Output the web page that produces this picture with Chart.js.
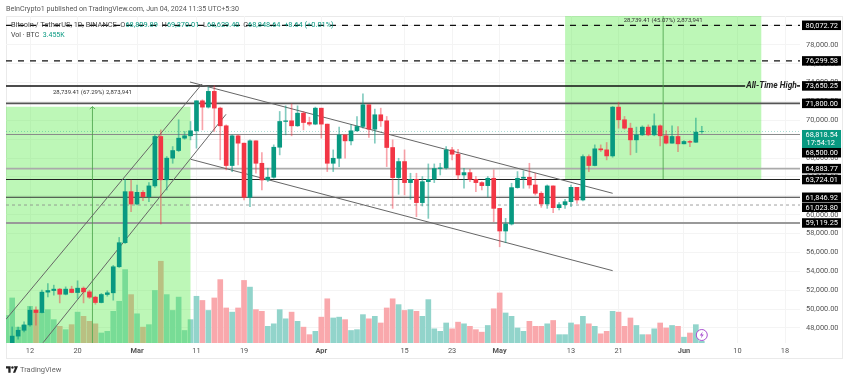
<!DOCTYPE html>
<html lang="en">
<head>
    <meta charset="UTF-8">
    <script src="https://cdn.jsdelivr.net/npm/chart.js"></script>
    <title>BTC/USDT 1D</title>
    <style>
        body { margin: 0; background: #fff; font-family: Roboto, sans-serif; }
        canvas { position: absolute; left: 0; top: 0; filter: blur(.4px); }
        .t { position: absolute; white-space: nowrap; line-height: 10px; height: 10px; font-size: 7.4px; color: #444; filter: blur(.25px); }
        .t b { font-weight: 400; color: #089981; }
    </style>
</head>
<body>
    <canvas id="myChart" width="850" height="380"></canvas>
    <div class="t" style="left:6px;top:4px;font-size:7.1px;color:#555">BeInCrypto1 published on TradingView.com, Jun 04, 2024 11:35 UTC+5:30</div>
    <div class="t" style="left:11px;top:20px">Bitcoin / TetherUS, 1D, BINANCE &nbsp;O<b>68,809.89</b> &nbsp;H<b>69,370.01</b> &nbsp;L<b>68,629.40</b> &nbsp;C<b>68,848.64</b> &nbsp;<b>+8.64 (+0.01%)</b></div>
    <div class="t" style="left:11px;top:30px;font-size:7px">Vol · BTC &nbsp;<b>3.455K</b></div>
    <svg style="position:absolute;left:6px;top:366px" width="12" height="8" viewBox="0 0 13 8">
        <path d="M0 0h5v7H2.500V2.500H0z M8.500 0L11 0 13 0 10 7H7.500L9.500 2.500z" fill="#222"/><circle cx="7" cy="1.300" r="1.300" fill="#222"/>
    </svg>
    <div class="t" style="left:20px;top:365px;font-size:7.5px;color:#666">TradingView</div>
    <script>
        // daily candles Feb 8 -> Jun 4 2024
        const opens = [44340,45290,47130,47750,48320,49880,49630,51790,51960,52110,51570,52110,51750,52210,51820,51260,50690,51540,51720,54480,57030,62440,
            61130,62370,61910,63050,68290,63700,65990,66800,68110,68360,68890,72070,71400,73070,71300,69420,65210,68360,67580,61840,67830,65450,63680,63970,67150,69880,69950,69420,70760,69770,69600,
            71290,69600,65450,65980,68460,67825,68890,69350,71650,69065,70590,69950,67120,63930,65630,63400,63750,61280,63500,63750,64890,64960,66870,66410,64210,64460,63750,63400,63080,63860,
            60670,58270,59010,62870,63860,63970,63150,62270,61140,63050,60745,61060,61380,62900,61560,66160,65210,66980,66870,66230,71400,70060,69170,67930,68460,69280,68460,69420,68360,67580,68290,
            67510,67760,67680,68809.89]
        const closes = [45290,47130,47750,48320,49880,49630,51790,51960,52110,51570,52110,51750,52210,51820,51260,50690,51540,51720,54480,57030,62440,61130,
            62370,61910,63050,68290,63700,65990,66800,68110,68360,68890,72070,71400,73070,71300,69420,65210,68360,67580,61840,67830,65450,63680,63970,67150,69880,69950,69420,70760,69770,69600,71290,
            69600,65450,65980,68460,67825,68890,69350,71650,69065,70590,69950,67120,63930,65630,63400,63750,61280,63500,63750,64890,64960,66870,66410,64210,64460,63750,63400,63080,63860,60670,
            58270,59010,62870,63860,63970,63150,62270,61140,63050,60745,61060,61380,62900,61560,66160,65210,66980,66870,66230,71400,70060,69170,67930,68460,69280,68460,69420,68360,67580,68290,67510,
            67760,67680,68750,68818.54]
        const highs = [45600,48100,48100,48640,50230,50230,52000,52700,52530,52180,52350,52420,52990,52350,52000,51360,51650,51930,54620,57590,63750,63680,
            63150,62550,63400,68460,68990,66160,67220,70060,68820,69880,72070,72180,73530,73670,71400,69520,68460,68460,67580,67930,67830,66590,64920,67400,70940,71540,71750,71540,70940,70340,71400,
            71290,69600,66870,69280,68460,69520,70410,72820,71650,71190,71290,70410,67930,65980,66870,64390,64390,64040,65380,65380,65450,67220,67150,66940,64920,64820,64040,63500,64040,64750,
            60670,59610,63330,64570,64640,65450,64390,62440,63150,63050,61280,61630,63150,62900,66340,66340,67400,67400,67650,71470,71930,70410,69700,69280,69420,69520,70690,69520,68920,69420,69350,
            67860,67860,70230,69370.01]
        const lows = [44300,45240,46800,47570,48180,48280,49590,51290,51470,50650,51500,51720,51120,50650,51120,50510,50650,51360,50940,54410,56960,60320,
            61030,61490,61380,62900,59010,62620,65450,66690,68000,67930,67050,68990,71300,68820,65810,64750,64570,65280,61560,60850,64390,62620,63510,63860,66340,68460,68360,69350,68990,69420,69530,
            68110,64570,64570,65100,65980,67400,68820,69170,68180,67580,69350,65100,60670,62160,62090,61630,59790,60920,59610,63400,64210,64820,65810,63750,62800,63500,62440,62620,61850,59260,
            56600,57030,58900,62800,62800,62800,62090,60780,60670,60210,60500,60670,60850,61200,61450,64570,65170,66690,65810,66090,69170,69060,66340,66590,68390,68360,68360,67290,67510,67580,66690,
            67510,67220,67650,68629.40]
        // thousand BTC
        const volumes = [33,54,19,21,44,40,37,40,28,20,16,22,37,32,26,23,12,14,38,50,88,58,
            35,19,22,63,98,58,39,55,15,28,56,51,39,54,76,42,37,42,75,67,40,38,20,23,40,29,37,26,19,10,14,
            31,53,30,31,28,15,16,34,29,32,24,42,53,46,39,40,38,32,52,17,14,24,17,25,23,20,16,13,21,41,
            60,36,32,18,14,26,20,20,23,27,10,10,24,22,32,23,20,11,14,38,37,20,30,21,10,10,17,24,18,21,20,
            7,12,22,2]

        // day numbers count from Feb 12 = 0
        const firstDay = -4
        const tickDays = [0,8,18,28,36,49,63,71,79,91,99,110,119,127]
        const tickLabels = ['12','20','Mar','11','19','Apr','15','23','May','13','21','Jun','10','18']
        const priceTicks = [48000,50000,52000,54000,56000,58000,60000,62000,64000,66000,68000,70000,72000,74000,76000,78000,80000]

        const levelPrices = [80072.72,76299.58,73650.25,71800,68500,64883.77,63724.01,61846.92,61023.80,59119.25]
        const levelColors = ['#111','#111','#111','#555','#8a8a8a','#aaa','#222','#333','#888','#999']
        const levelWidths = [1.2,1.2,1.5,1.6,1,1.8,1.1,1.2,0.8,1.8]
        const levelDashes = [[6,6],[6,6],[],[],[],[],[],[],[3,3],[]]
        const athPrice = 73650.25
        const athEndDay = 120.3
        const ownTagPrice = 68500
        const lastPrice = 68818.54
        const lastTime = '17:54:12'
        const athLabel = 'All-Time High'

        // [day1, price1, day2, price2]
        const trendLines = [[-4.04,48912,28.93,73852],[2.19,46432,32.97,70640],[26.91,74063,98.01,62267],[27.03,65871,98.01,54063]]
        const boxDays = [[-4.04,27.03],[90,123.05]]
        const boxPrices = [[42709,71448],[63767,92505]]
        const boxArrowDays = [10.5,106.5]
        const boxLabels = ['28,739.41 (67.29%) 2,873,941','28,739.41 (45.07%) 2,873,941']
        const boxLabelPrices = [73000,80600]

        const UP = '#089981', DOWN = '#f23645'
        const days = opens.map((o, i) => firstDay + i)
        const isUp = closes.map((c, i) => c >= opens[i])
        const xMin = -4.04, xMax = 129.52

        const FONT = 'Roboto, sans-serif'

        function hline(price, color, width, dash, startDay, endDay) {
            return { type: 'line', order: 5, borderColor: color, borderWidth: width, borderDash: dash, pointRadius: 0,
                data: [{ x: startDay, y: price }, { x: endDay, y: price }] }
        }
        function money(v) {
            return v.toLocaleString('en-US', { minimumFractionDigits: 2 })
        }

        const datasets = []
        // candle bodies and wicks on top
        datasets.push({ type: 'bar', order: 1, grouped: false, barThickness: 4, borderWidth: 0,
            backgroundColor: isUp.map(u => u ? UP : DOWN),
            data: days.map((d, i) => ({ x: d, y: [opens[i], closes[i]] })) })
        datasets.push({ type: 'bar', order: 2, grouped: false, barThickness: 1, borderWidth: 0,
            backgroundColor: isUp.map(u => u ? 'rgba(8,153,129,.5)' : 'rgba(242,54,69,.45)'),
            data: days.map((d, i) => ({ x: d, y: [lows[i], highs[i]] })) })
        trendLines.forEach(l => {
            datasets.push({ type: 'line', order: 3, borderColor: '#666', borderWidth: 1, pointRadius: 0,
                data: [{ x: l[0], y: l[1] }, { x: l[2], y: l[3] }] })
        })
        // green boxes sit over the volume bars, arrows on top of them
        boxDays.forEach((b, i) => {
            datasets.push({ type: 'line', order: 6, borderWidth: 0, pointRadius: 0,
                backgroundColor: 'rgba(76,234,60,.37)', fill: { value: boxPrices[i][1] },
                data: [{ x: b[0], y: boxPrices[i][0] }, { x: b[1], y: boxPrices[i][0] }] })
            datasets.push({ type: 'line', order: 4, borderColor: 'rgba(70,160,70,.8)', borderWidth: 1, pointRadius: 0,
                data: [{ x: boxArrowDays[i], y: boxPrices[i][0] }, { x: boxArrowDays[i], y: boxPrices[i][1] }] })
            datasets.push({ type: 'line', order: 4, borderColor: 'rgba(70,160,70,.8)', borderWidth: 1, pointRadius: 0,
                data: [{ x: boxArrowDays[i] - .45, y: boxPrices[i][1] - 250 }, { x: boxArrowDays[i], y: boxPrices[i][1] }, { x: boxArrowDays[i] + .45, y: boxPrices[i][1] - 250 }] })
        })
        levelPrices.forEach((p, i) => {
            // the ATH line breaks for its label
            if (p === athPrice) {
                datasets.push(hline(p, levelColors[i], levelWidths[i], levelDashes[i], xMin, athEndDay))
                datasets.push(hline(p, levelColors[i], levelWidths[i], levelDashes[i], 129, xMax))
            } else {
                datasets.push(hline(p, levelColors[i], levelWidths[i], levelDashes[i], xMin, xMax))
            }
        })
        datasets.push(hline(lastPrice, 'rgba(8,153,129,.35)', 1, [1, 2], xMin, xMax))
        datasets.push({ type: 'bar', order: 7, grouped: false, barThickness: 5, borderWidth: 0, yAxisID: 'yVol',
            backgroundColor: isUp.map(u => u ? '#92d4cb' : '#f9a8ac'),
            data: days.map((d, i) => ({ x: d, y: volumes[i] })) })

        // tags, labels and frame
        const extras = {
            id: 'extras',
            beforeDraw(chart) {
                const c = chart.ctx
                c.save()
                c.fillStyle = '#fff'
                c.fillRect(0, 0, chart.width, chart.height)
                c.strokeStyle = '#eaeaea'
                c.lineWidth = 1
                c.strokeRect(6.5, 16.5, 836, 342)
                c.restore()
            },
            afterDraw(chart) {
                const c = chart.ctx, x = chart.scales.x, y = chart.scales.y
                c.save()
                c.textBaseline = 'middle'
                // box captions
                c.font = '6px ' + FONT
                c.fillStyle = '#333'
                c.textAlign = 'center'
                boxLabels.forEach((t, i) => c.fillText(t, x.getPixelForValue(boxArrowDays[i]), y.getPixelForValue(boxLabelPrices[i])))
                // ATH label
                c.font = 'italic bold 8.4px ' + FONT
                c.fillStyle = '#222'
                c.textAlign = 'left'
                c.fillText(athLabel, x.getPixelForValue(athEndDay) + 1, y.getPixelForValue(athPrice))
                // price tags, pushed apart when they would overlap
                c.font = '7.4px ' + FONT
                c.textAlign = 'right'
                const left = 802, w = 39, h = 9.5
                let lastY = -99
                levelPrices.forEach(p => {
                    if (p === ownTagPrice) return
                    let py = y.getPixelForValue(p)
                    if (py - lastY < h + .5) py = lastY + h + .5
                    lastY = py
                    c.fillStyle = '#000'
                    c.fillRect(left, py - h / 2, w, h)
                    c.fillStyle = '#fff'
                    c.fillText(money(p), left + w - 3, py + .5)
                })
                // current price with countdown, the 68,500 tag sits just under it
                const ly = y.getPixelForValue(lastPrice)
                c.fillStyle = UP
                c.fillRect(left, ly - 1.5, w, 18)
                c.fillStyle = '#fff'
                c.fillText(money(lastPrice), left + w - 3, ly + 3.5)
                c.fillText(lastTime, left + w - 6, ly + 11.7)
                c.fillStyle = '#000'
                c.fillRect(left, ly + 16.5, w, h)
                c.fillStyle = '#fff'
                c.fillText(money(ownTagPrice), left + w - 3, ly + 21.5)
                // lightning badge
                const bx = x.getPixelForValue(days[days.length - 1]), by = 335
                c.beginPath()
                c.arc(bx, by, 5.5, 0, Math.PI * 2)
                c.fillStyle = '#fff'
                c.fill()
                c.strokeStyle = '#a94fd0'
                c.lineWidth = 1
                c.stroke()
                c.beginPath()
                c.moveTo(bx + 1, by - 3.5)
                c.lineTo(bx - 2, by + .5)
                c.lineTo(bx, by + .5)
                c.lineTo(bx - 1, by + 3.5)
                c.lineTo(bx + 2, by - .5)
                c.lineTo(bx, by - .5)
                c.closePath()
                c.fillStyle = '#a94fd0'
                c.fill()
                c.restore()
            }
        }

        new Chart(document.getElementById('myChart'), {
            type: 'bar',
            data: { datasets: datasets },
            plugins: [extras],
            options: {
                responsive: false,
                animation: false,
                events: [],
                layout: { padding: { left: 6, top: 16, right: 7, bottom: 21 } },
                plugins: { legend: { display: false }, tooltip: { enabled: false }, title: { display: false } },
                scales: {
                    x: {
                        type: 'linear', offset: false, min: xMin, max: xMax,
                        grid: { color: '#f4f4f4', drawTicks: false, offset: false },
                        border: { display: false },
                        afterBuildTicks(axis) {
                            axis.ticks = tickDays.map(d => ({ value: d, major: isNaN(tickLabels[tickDays.indexOf(d)]) }))
                        },
                        afterFit(axis) { axis.height = 16 },
                        ticks: {
                            autoSkip: false, maxRotation: 0, padding: 4, color: '#555',
                            font: ctx => ({ family: FONT, size: 7.4, weight: ctx.tick && ctx.tick.major ? 'bold' : 'normal' }),
                            callback: v => tickLabels[tickDays.indexOf(v)]
                        }
                    },
                    y: {
                        position: 'right', min: 46400, max: 81059,
                        grid: { color: '#f4f4f4', drawTicks: false },
                        border: { display: false },
                        afterBuildTicks(axis) { axis.ticks = priceTicks.map(v => ({ value: v })) },
                        afterFit(axis) { axis.width = 43 },
                        ticks: {
                            padding: 6, color: '#555', font: { family: FONT, size: 7.4 },
                            callback: v => money(v)
                        }
                    },
                    yVol: { display: false, min: 0, max: 392 }
                }
            }
        })
    </script>
</body>
</html>
